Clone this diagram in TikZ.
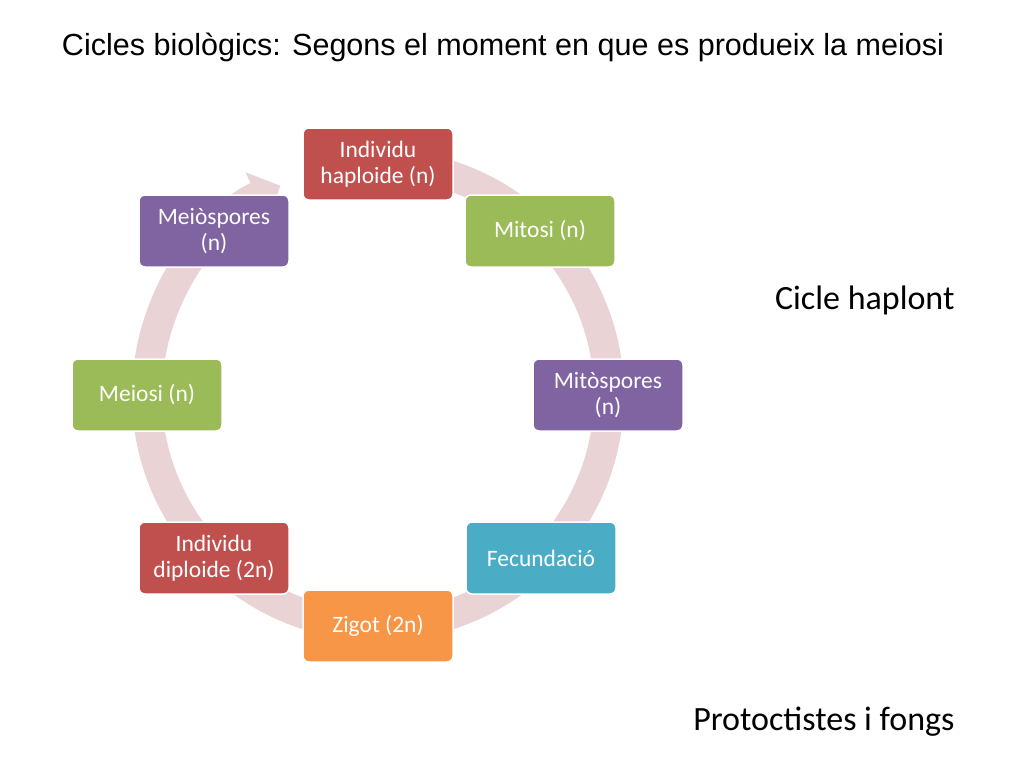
\documentclass[tikz,border=0pt]{standalone}
\usepackage{fontspec}
\usepackage{graphicx}
\setmainfont{Carlito}
\newfontfamily\titlefont{Liberation Sans}
\usetikzlibrary{arrows.meta}
\definecolor{cred}{HTML}{C0504D}
\definecolor{cgreen}{HTML}{9BBB59}
\definecolor{cpurple}{HTML}{8064A2}
\definecolor{cteal}{HTML}{4BACC6}
\definecolor{corange}{HTML}{F79646}
\definecolor{ring}{HTML}{E9D3D5}
\begin{document}
\begin{tikzpicture}[x=1pt,y=-1pt,
  box/.style={draw=white,line width=1.5pt,rounded corners=6pt,minimum width=150pt,minimum height=72pt,text=white,font=\fontsize{23.5}{26}\selectfont,align=center},
  lbl/.style={font=\fontsize{34}{38}\selectfont}]
\useasboundingbox (0,0) rectangle (1024,768);
\fill[white] (0,0) rectangle (1024,768);
\coordinate (c) at (378,395);
\draw[ring,line width=30pt,-{Triangle[width=52pt,length=26pt]}] (c) ++(-80:231) arc[start angle=-80,end angle=245,radius=231];
\node[box,fill=cred] (a) at (378,164) {Individu\\haploide (n)};
\node[box,fill=cgreen] (b) at (540,231) {Mitosi (n)};
\node[box,fill=cpurple] (d) at (608,395) {Mitòspores\\(n)};
\node[box,fill=cteal] (e) at (541,558) {Fecundació};
\node[box,fill=corange] (f) at (378,626) {Zigot (2n)};
\node[box,fill=cred] (g) at (214,558) {Individu\\diploide (2n)};
\node[box,fill=cgreen] (h) at (147,395) {Meiosi (n)};
\node[box,fill=cpurple] (i) at (214,231) {Meiòspores\\(n)};
\node[inner sep=0pt] (t) at (503,47) {\resizebox{882pt}{!}{\titlefont\fontsize{27}{31}\selectfont Cicles biològics: Segons el moment en que es produeix la meiosi}};
\node[lbl,anchor=east] (ch) at (958,300) {Cicle haplont};
\node[lbl,anchor=east] (pf) at (958,722) {Protoctistes i fongs};
\end{tikzpicture}
\end{document}
